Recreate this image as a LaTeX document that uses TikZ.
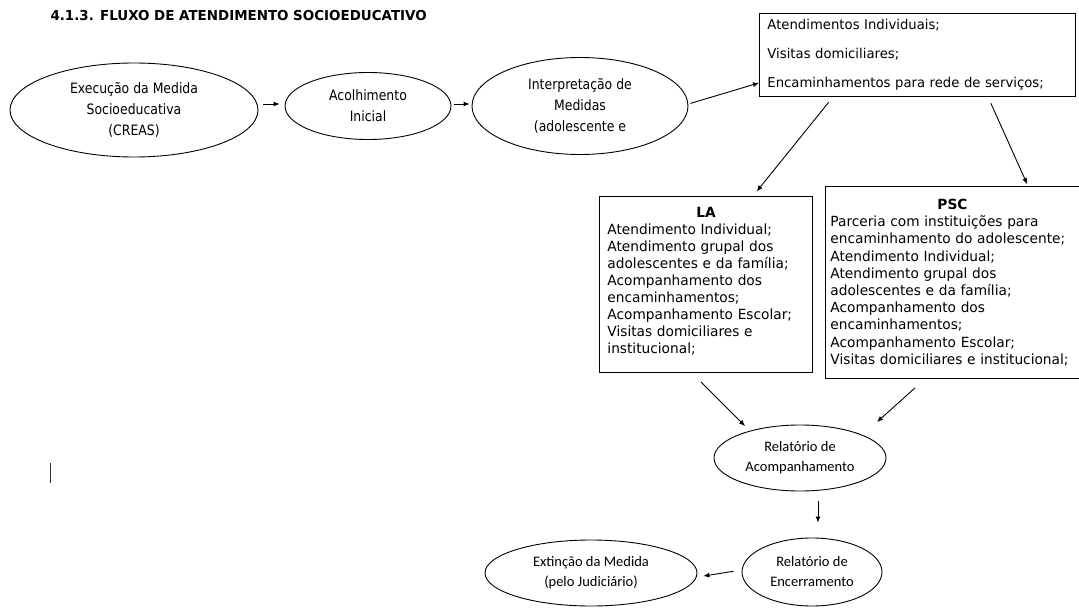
\documentclass[tikz,border=0pt]{standalone}
\usepackage{fontspec}
\setmainfont{DejaVu Sans}
\newfontfamily\tahN{DejaVu Sans}[FakeStretch=0.87]
\newfontfamily\verN{DejaVu Sans}[FakeStretch=0.98]
\newfontfamily\calfont{Carlito}
\usetikzlibrary{shapes.geometric,arrows.meta,calc}
\begin{document}
\begin{tikzpicture}[x=1pt,y=-1pt,
  ell/.style={draw, ellipse, inner sep=0pt, line width=0.9pt, align=center},
  topell/.style={ell, font={\tahN\fontsize{14.3}{21}\selectfont}},
  botell/.style={ell, font={\calfont\fontsize{14.5}{20}\selectfont}},
  boxn/.style={draw, rectangle, line width=0.9pt, anchor=north west, align=left},
  arr/.style={-{Latex[length=6pt,width=5pt]}, line width=0.9pt}]
\useasboundingbox (0,0) rectangle (1079,610);

\node[anchor=base west, font={\verN\bfseries\fontsize{13.7}{15}\selectfont}] (title) at (47,21) {4.1.3. FLUXO DE ATENDIMENTO SOCIOEDUCATIVO};

\node[topell, minimum width=248pt, minimum height=94pt] (e1) at (134,110) {Execução da Medida\\Socioeducativa\\(CREAS)};
\node[topell, minimum width=166pt, minimum height=67pt] (e2) at (368,106) {Acolhimento\\Inicial};
\node[topell, minimum width=216pt, minimum height=97pt] (e3) at (580,106) {Interpretação de\\Medidas\\(adolescente e};

\node[boxn, minimum width=316pt, minimum height=83pt, text width=300pt, inner xsep=8pt, inner ysep=0pt,
  font={\verN\fontsize{13.5}{29}\selectfont}] (top) at (759,13)
  {Atendimentos Individuais;\\Visitas domiciliares;\\Encaminhamentos para rede de serviços;};

\node[boxn, minimum width=213pt, minimum height=176pt, text width=197pt, inner xsep=8pt, inner ysep=0pt,
  font={\verN\fontsize{14}{17}\selectfont}] (la) at (599,196)
  {\makebox[\linewidth][c]{\bfseries LA}\\
   Atendimento Individual;\\
   Atendimento grupal dos\\
   adolescentes e da família;\\
   Acompanhamento dos\\
   encaminhamentos;\\
   Acompanhamento Escolar;\\
   Visitas domiciliares e\\
   institucional;\\[-9pt]\mbox{}};

\node[boxn, minimum width=262pt, minimum height=192pt, text width=252pt, inner xsep=5pt, inner ysep=0pt,
  font={\verN\fontsize{14}{17.2}\selectfont}] (psc) at (825,186)
  {\makebox[244pt][c]{\bfseries PSC}\\
   Parceria com instituições para\\
   encaminhamento do adolescente;\\
   Atendimento Individual;\\
   Atendimento grupal dos\\
   adolescentes e da família;\\
   Acompanhamento dos\\
   encaminhamentos;\\
   Acompanhamento Escolar;\\
   \mbox{Visitas domiciliares e institucional;}};

\node[botell, minimum width=172pt, minimum height=66pt] (ra) at (800,458) {Relatório de\\Acompanhamento};
\node[botell, minimum width=140pt, minimum height=68pt] (re) at (812,572) {Relatório de\\Encerramento};
\node[botell, minimum width=212pt, minimum height=66pt] (ex) at (591,573) {Extinção da Medida\\(pelo Judiciário)};

% cursor mark
\draw[line width=1pt, black!80] (50,463) -- (50,483);

% connectors
\draw[arr, shorten <=5pt, shorten >=5pt] ($(e1.east)+(0,-6)$) -- ($(e2.west)+(0,-2)$);
\draw[arr, shorten <=3pt, shorten >=2pt] ($(e2.east)+(0,-2)$) -- ($(e3.west)+(0,-2)$);
\draw[arr, shorten <=2pt] ($(e3.east)+(0,-2)$) -- ($(top.south west)+(0,-14)$);
\draw[arr, shorten <=7pt, shorten >=6pt] ($(top.south west)+(74,0)$) -- ($(la.north west)+(154,0)$);
\draw[arr, shorten <=7pt, shorten >=2pt] ($(top.south west)+(229,0)$) -- ($(psc.north west)+(203,0)$);
\draw[arr] ($(la.south west)+(102,9)$) -- ($(ra.center)+(-55,-32)$);
\draw[arr] ($(psc.south west)+(90,9)$) -- ($(ra.center)+(77,-36)$);
\draw[arr, shorten <=10pt, shorten >=15pt] ($(ra.south)+(18,0)$) -- ($(re.north)+(6,0)$);
\draw[arr, shorten <=8pt, shorten >=6pt] ($(re.west)+(0,-2)$) -- ($(ex.east)+(0,4)$);
\end{tikzpicture}
\end{document}
